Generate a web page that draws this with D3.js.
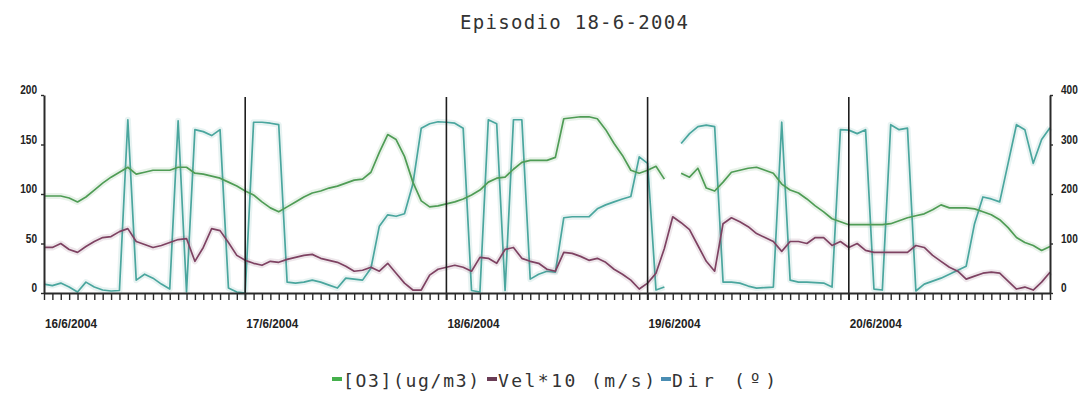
<!DOCTYPE html>
<html>
<head>
<meta charset="utf-8">
<script src="https://cdn.jsdelivr.net/npm/d3@7"></script>
<style>
  html, body { margin: 0; padding: 0; background: #fff; }
  svg { display: block; }
</style>
</head>
<body>
<div id="chart"></div>
<script>
// hourly series, 16/6/2004 00h .. 21/6/2004 00h (121 points)
const days = ['16/6/2004', '17/6/2004', '18/6/2004', '19/6/2004', '20/6/2004']
const leftTicks = [0, 50, 100, 150, 200]
const rightTicks = [0, 100, 200, 300, 400]

const o3 = [
  98, 98, 98, 96, 92, 97, 104, 111, 117, 122, 127, 120, 122, 124, 124, 124, 127, 127, 121, 120, 118, 116, 112, 108, 103,
  99, 92, 86, 82, 87, 92, 97, 101, 103, 106, 108, 111, 114, 115, 122, 142, 160, 155, 138, 112, 93, 87, 88, 90,
  92, 95, 99, 104, 112, 116, 117, 125, 132, 134, 134, 134, 137, 176, 177, 178, 178, 176, 165, 151, 139, 124, 121, 124,
  128, 115, null, 121, 117, 126, 106, 103, 112, 122, 124, 126, 127, 124, 121, 110, 104, 101, 95, 88, 82, 75, 72, 69,
  69, 69, 69, 69, 70, 73, 76, 78, 80, 84, 89, 86, 86, 86, 85, 82, 79, 74, 66, 56, 51, 48, 43, 47
]

const vel = [
  46, 46, 50, 44, 41, 47, 52, 56, 57, 62, 65, 52, 49, 46, 48, 51, 54, 55, 32, 46, 65, 63, 51, 38, 33,
  30, 28, 32, 31, 34, 36, 38, 39, 35, 33, 31, 27, 22, 23, 26, 22, 30, 20, 10, 3, 3, 18, 24, 26,
  28, 26, 22, 36, 35, 30, 44, 46, 35, 32, 30, 24, 22, 41, 40, 37, 33, 35, 31, 24, 19, 13, 4, 10,
  20, 45, 77, 71, 64, 48, 32, 22, 70, 76, 72, 67, 60, 56, 52, 42, 52, 52, 50, 56, 56, 48, 52, 46,
  50, 43, 41, 41, 41, 41, 41, 48, 46, 38, 32, 26, 22, 14, 17, 20, 21, 20, 12, 4, 6, 3, 11, 21
]

const dir = [
  18, 15, 20, 12, 2, 22, 12, 6, 4, 5, 350, 26, 38, 30, 18, 8, 348, 2, 330, 326, 318, 330, 10, 2, 0,
  345, 345, 343, 340, 22, 20, 22, 26, 22, 16, 10, 30, 28, 26, 50, 135, 158, 155, 160, 220, 333, 342, 346, 345,
  343, 333, 5, 2, 350, 342, 5, 350, 350, 28, 38, 44, 42, 152, 154, 154, 154, 170, 178, 184, 190, 195, 275, 262,
  6, 12, null, 302, 322, 336, 339, 336, 22, 22, 20, 14, 10, 11, 12, 345, 26, 22, 22, 21, 20, 12, 330, 329,
  322, 330, 8, 6, 340, 330, 333, 4, 18, 24, 30, 38, 46, 54, 140, 194, 190, 184, 262, 340, 330, 262, 310, 334
]

const series = [
  { name: '[O3](ug/m3)', values: o3, axis: 'left', color: '#4f9c55', key: '#45b04c' },
  { name: 'Vel*10 (m/s)', values: vel, axis: 'left', color: '#7e4262', key: '#6a3c55' },
  { name: 'Dir (º)', values: dir, axis: 'right', color: '#4aa69e', key: '#4a8db3' }
]

const width = 1082
const height = 394

const svg = d3.select('#chart')
  .append('svg')
  .attr('width', width)
  .attr('height', height)
  .attr('viewBox', [0, 0, width, height])

const x = d3.scaleLinear().domain([0, 120]).range([44, 1050])
const y = d3.scaleLinear().domain([0, 200]).range([293, 95])
const yR = d3.scaleLinear().domain([0, 400]).range([293, 95])

const axisFont = '"Liberation Sans Narrow", "Arial Narrow", "Liberation Sans", Arial, sans-serif'
const monoFont = '"DejaVu Sans Mono", "Liberation Mono", monospace'

// Title
svg.append('text')
  .attr('x', 460)
  .attr('y', 29)
  .attr('font-family', monoFont)
  .attr('font-size', 19)
  .attr('fill', '#333')
  .attr('textLength', 228)
  .attr('lengthAdjust', 'spacing')
  .text('Episodio 18-6-2004')

// Lines (soft halo under each, like the blurry original)
const line = d3.line()
  .defined(d => d.v != null)
  .x(d => x(d.h))
  .y(d => d.scale(d.v))

const lineGroup = svg.append('g').attr('class', 'lines')
series.slice().reverse().forEach(s => {
  const scale = s.axis === 'left' ? y : yR
  const pts = s.values.map((v, h) => ({ h, v, scale }))
  lineGroup.append('path')
    .datum(pts)
    .attr('d', line)
    .attr('fill', 'none')
    .attr('stroke', s.color)
    .attr('stroke-opacity', 0.13)
    .attr('stroke-width', 6)
    .attr('stroke-linejoin', 'round')
  lineGroup.append('path')
    .datum(pts)
    .attr('d', line)
    .attr('fill', 'none')
    .attr('stroke', s.color)
    .attr('stroke-width', 1.7)
    .attr('stroke-linejoin', 'round')
})

// Day separators
svg.append('g')
  .selectAll('line')
  .data(days.slice(1))
  .join('line')
  .attr('x1', (_d, i) => x((i + 1) * 24))
  .attr('x2', (_d, i) => x((i + 1) * 24))
  .attr('y1', y(200) + 2)
  .attr('y2', y(0) + 7)
  .attr('stroke', '#1e1e1e')
  .attr('stroke-width', 1.6)

// Axes
const styleAxis = g => {
  g.select('.domain').attr('stroke', '#2a2a2a').attr('stroke-width', 2)
  g.selectAll('.tick line').attr('stroke', '#2a2a2a').attr('stroke-width', 1.4)
  g.selectAll('text')
    .attr('fill', '#222')
    .attr('font-family', axisFont)
    .attr('font-weight', 'bold')
    .attr('font-size', 12)
    .attr('lengthAdjust', 'spacingAndGlyphs')
    .attr('textLength', d => String(d).length * 5.6)
    .attr('y', -5)
}

svg.append('g')
  .attr('transform', `translate(${x(0)},0)`)
  .call(d3.axisLeft(y).tickValues(leftTicks).tickSize(3).tickSizeOuter(0).tickPadding(4))
  .call(styleAxis)

svg.append('g')
  .attr('transform', `translate(${x(120)},0)`)
  .call(d3.axisRight(yR).tickValues(rightTicks).tickSize(3).tickSizeOuter(0).tickPadding(8))
  .call(styleAxis)

svg.append('g')
  .attr('transform', `translate(0,${y(0)})`)
  .call(d3.axisBottom(x).tickValues(d3.range(0, 121)).tickSize(7).tickSizeOuter(0).tickFormat(''))
  .call(g => {
    g.select('.domain').attr('stroke', '#2a2a2a').attr('stroke-width', 2)
    g.selectAll('.tick line').attr('stroke', '#2a2a2a').attr('stroke-width', 1.4)
  })

// Date labels
svg.append('g')
  .selectAll('text')
  .data(days)
  .join('text')
  .attr('x', (_d, i) => x(i * 24) + 1)
  .attr('y', 328)
  .attr('font-family', axisFont)
  .attr('font-weight', 'bold')
  .attr('font-size', 12)
  .attr('fill', '#222')
  .attr('textLength', 52)
  .attr('lengthAdjust', 'spacingAndGlyphs')
  .text(d => d)

// Legend
const legendItems = [
  { x: 332, textW: 136 },
  { x: 487, textW: 157 },
  { x: 661, textW: 104 }
]
const legend = svg.append('g').attr('class', 'legend')
series.forEach((s, i) => {
  const pos = legendItems[i]
  legend.append('rect')
    .attr('x', pos.x)
    .attr('y', 377)
    .attr('width', 10)
    .attr('height', 4)
    .attr('fill', s.key)
  legend.append('text')
    .attr('x', pos.x + 11)
    .attr('y', 387)
    .attr('font-family', monoFont)
    .attr('font-size', 18)
    .attr('fill', '#333')
    .attr('textLength', pos.textW)
    .attr('lengthAdjust', 'spacing')
    .text(s.name)
})
</script>
</body>
</html>
